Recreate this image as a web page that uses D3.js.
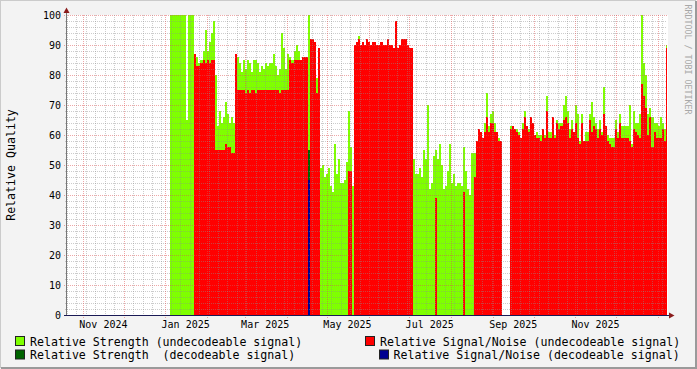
<!DOCTYPE html>
<html><head><meta charset="utf-8">
<script src="https://cdn.jsdelivr.net/npm/d3@7"></script>
<style>body{margin:0;background:#f3f3f3}svg{display:block}text{font-family:"DejaVu Sans Mono",monospace;white-space:pre}</style>
</head><body><svg id="c" width="697" height="369"></svg>
<script>
// ---- data ----
const domainStart = "2024-10-20T00:00:00Z";
const domainEnd = "2026-01-08T00:00:00Z";
const seriesStart = "2025-01-04T12:00:00Z";
const stepHours = 36;
const _ = null;
const strengthUndecodeable = [
 100,100,100,100,100,100,100,100,65,100,100,100,
 87,86,84,85,88,95,88,91,94,98,80,63,68,64,66,71,67,64,66,64,
 87,86,84,81,85,82,85,84,81,85,85,84,81,83,82,84,83,84,84,87,83,80,82,94,89,82,87,
 86,85,88,90,88,85,86,86,86,100,92,92,91,79,89,
 49,50,46,47,49,43,41,57,47,52,44,44,45,51,68,56,43,
 90,91,93,90,91,90,92,91,90,91,91,90,90,91,90,90,92,90,90,89,98,89,90,92,92,92,90,89,89,
 52,47,47,49,46,55,52,70,42,44,53,55,52,57,50,42,43,48,57,44,47,43,44,44,43,56,48,42,40,54,54,
 58,62,61,59,64,74,63,67,68,64,61,59,58,
 _,_,_,_,
 63,63,62,62,61,59,64,68,63,62,66,64,60,61,60,60,62,60,73,61,61,66,60,65,64,64,70,73,68,62,65,61,70,67,58,
 67,58,61,61,67,71,66,64,62,65,61,76,63,60,59,59,59,65,61,67,63,63,63,63,70,57,68,64,64,67,
 100,84,80,67,69,66,64,64,63,66,64,62,90
];
const snrUndecodeable = [
 _,_,_,_,_,_,_,_,_,_,_,_,
 87,83,83,84,85,84,85,84,85,85,55,55,55,55,55,57,56,56,54,54,
 87,75,75,75,75,74,75,74,75,75,74,75,75,75,75,75,75,75,75,75,75,75,74,75,75,75,75,
 85,84,85,85,85,85,86,86,86,_,92,92,91,74,89,
 _,_,_,_,_,_,_,_,_,_,_,_,_,_,48,48,_,
 90,91,92,90,91,90,92,91,90,91,91,90,90,91,90,90,92,90,90,89,98,89,90,92,92,92,90,89,89,
 _,_,_,_,_,_,_,_,_,_,_,39,_,_,_,_,_,_,_,_,_,_,_,_,_,41,_,_,_,_,46,
 58,62,61,59,61,66,61,64,64,61,61,58,58,
 _,_,_,_,
 62,63,62,61,60,59,62,66,63,61,66,64,60,59,59,58,62,59,68,59,59,66,59,64,62,63,65,66,64,59,62,61,64,59,57,
 64,58,58,58,65,61,63,62,59,62,60,67,63,58,57,56,56,62,59,64,59,59,59,59,58,56,62,61,60,59,
 77,73,69,60,66,56,61,59,59,59,62,58,89
];
const strengthDecodeable = [{time: "2025-04-16T12:00:00Z", value: 55}];
const snrDecodeable = [{time: "2025-04-16T12:00:00Z", value: 45}];
const yTicks = [0,10,20,30,40,50,60,70,80,90,100];
const xLabelMonths = ["2024-11-01","2025-01-01","2025-03-01","2025-05-01","2025-07-01","2025-09-01","2025-11-01"];
const legendItems = [
 {label:"Relative Strength (undecodeable signal)", color:"#7fff00"},
 {label:"Relative Signal/Noise (undecodeable signal)", color:"#ff0000"},
 {label:"Relative Strength  (decodeable signal)", color:"#006400"},
 {label:"Relative Signal/Noise (decodeable signal)", color:"#000090"}
];

// ---- drawing ----
const svg = d3.select("#c");
const L=67, R=667, T=15, B=315;
const x = d3.scaleUtc().domain([new Date(domainStart), new Date(domainEnd)]).range([L,R]);
const y = d3.scaleLinear().domain([0,100]).range([B,T]);
const t0 = new Date(seriesStart);

svg.append("rect").attr("width",697).attr("height",369).attr("fill","#f3f3f3");
// shade border
svg.append("path").attr("d","M0,368 V0 H696").attr("fill","none").attr("stroke","#cbcbcb").attr("stroke-width",2);
svg.append("path").attr("d","M1,368 H696 V1").attr("fill","none").attr("stroke","#9a9a9a").attr("stroke-width",2);
svg.append("rect").attr("x",L).attr("y",T).attr("width",R-L+1).attr("height",B-T).attr("fill","#fff");

svg.append("clipPath").attr("id","clip").append("rect").attr("x",L).attr("y",T).attr("width",R-L).attr("height",B-T);
const plot = svg.append("g").attr("clip-path","url(#clip)");

function toPoints(vals){
  return vals.map((v,i)=>({t:d3.utcHour.offset(t0,i*stepHours),v})).filter(d=>d.v!=null);
}
function drawBars(pts,color){
  plot.append("g").selectAll("rect").data(pts).join("rect")
    .attr("x",d=>Math.round(x(d.t)))
    .attr("width",d=>Math.round(x(d3.utcHour.offset(d.t,stepHours)))-Math.round(x(d.t)))
    .attr("y",d=>Math.round(y(d.v)))
    .attr("height",d=>Math.round(y(0))-Math.round(y(d.v)))
    .attr("fill",color).attr("shape-rendering","crispEdges");
}
drawBars(toPoints(strengthUndecodeable), legendItems[0].color);
drawBars(toPoints(snrUndecodeable), legendItems[1].color);
drawBars(strengthDecodeable.map(d=>({t:new Date(d.time),v:d.value})), legendItems[2].color);
drawBars(snrDecodeable.map(d=>({t:new Date(d.time),v:d.value})), legendItems[3].color);

// grid
const grid = svg.append("g").attr("shape-rendering","crispEdges").attr("stroke-dasharray","1,1");
const minorC = "rgba(143,143,143,0.45)", majorC = "rgba(222,80,80,0.5)";
d3.range(2,100,2).filter(v=>v%10!==0).forEach(v=>{
  grid.append("line").attr("x1",L-2).attr("x2",R).attr("y1",Math.round(y(v))+0.5).attr("y2",Math.round(y(v))+0.5).attr("stroke",minorC);
});
yTicks.filter(v=>v>0).forEach(v=>{
  grid.append("line").attr("x1",L-3).attr("x2",R).attr("y1",Math.round(y(v))+0.5).attr("y2",Math.round(y(v))+0.5).attr("stroke",majorC);
});
const months = d3.utcMonth.range(x.domain()[0], x.domain()[1]);
const monthSet = new Set(months.map(d=>+d));
d3.utcSunday.range(x.domain()[0], x.domain()[1]).filter(d=>!monthSet.has(+d)).forEach(d=>{
  const xx=Math.round(x(d))+0.5;
  grid.append("line").attr("x1",xx).attr("x2",xx).attr("y1",T).attr("y2",B+2).attr("stroke",minorC);
});
months.forEach(d=>{
  const xx=Math.round(x(d))+0.5;
  grid.append("line").attr("x1",xx).attr("x2",xx).attr("y1",T).attr("y2",B+3).attr("stroke",majorC);
});

// axes
svg.append("line").attr("x1",66.5).attr("x2",66.5).attr("y1",B+1).attr("y2",10).attr("stroke","#777");
svg.append("line").attr("x1",64).attr("x2",670).attr("y1",B+0.5).attr("y2",B+0.5).attr("stroke","#1a1a55");
svg.append("path").attr("d","M63.5,13 L69.5,13 L66.5,7.5 Z").attr("fill","#8a1c1c");
svg.append("path").attr("d","M669,312.5 L669,318.5 L674.5,315.5 Z").attr("fill","#8a1c1c");

// y tick labels
svg.append("g").selectAll("text").data(yTicks).join("text")
  .attr("x",61).attr("y",d=>y(d)).attr("dy","0.36em").attr("text-anchor","end")
  .attr("font-size",10).attr("fill","#000").text(d=>d);
// x labels (centred mid-month)
const fmt = d3.utcFormat("%b %Y");
svg.append("g").selectAll("text").data(xLabelMonths.map(s=>new Date(s+"T00:00:00Z"))).join("text")
  .attr("x",d=>x(d3.utcDay.offset(d,15))).attr("y",327.5).attr("text-anchor","middle")
  .attr("font-size",10).attr("fill","#000").text(d=>fmt(d));

// y title
svg.append("text").attr("transform","translate(15,165) rotate(-90)").attr("text-anchor","middle")
  .attr("font-size",11.6).attr("fill","#000").text("Relative Quality");
// watermark
svg.append("text").attr("transform","translate(684.5,4.5) rotate(90)").attr("font-size",8.3)
  .attr("fill","#a8a8a8").text("RRDTOOL / TOBI OETIKER");

// legend
const legendPos = [
  {sx:15,sy:336.5,tx:30,ty:345.5},
  {sx:365,sy:336.5,tx:380,ty:345.5},
  {sx:15,sy:350,tx:30,ty:359},
  {sx:379,sy:350,tx:393.5,ty:359}
];
const lg = svg.append("g");
legendItems.forEach((it,i)=>{
  const p=legendPos[i];
  lg.append("rect").attr("x",p.sx+0.5).attr("y",p.sy).attr("width",9).attr("height",9)
    .attr("fill",it.color).attr("stroke","#222").attr("stroke-width",1);
  lg.append("text").attr("x",p.tx).attr("y",p.ty).attr("font-size",11.6).attr("fill","#000").text(it.label);
});
</script></body></html>
